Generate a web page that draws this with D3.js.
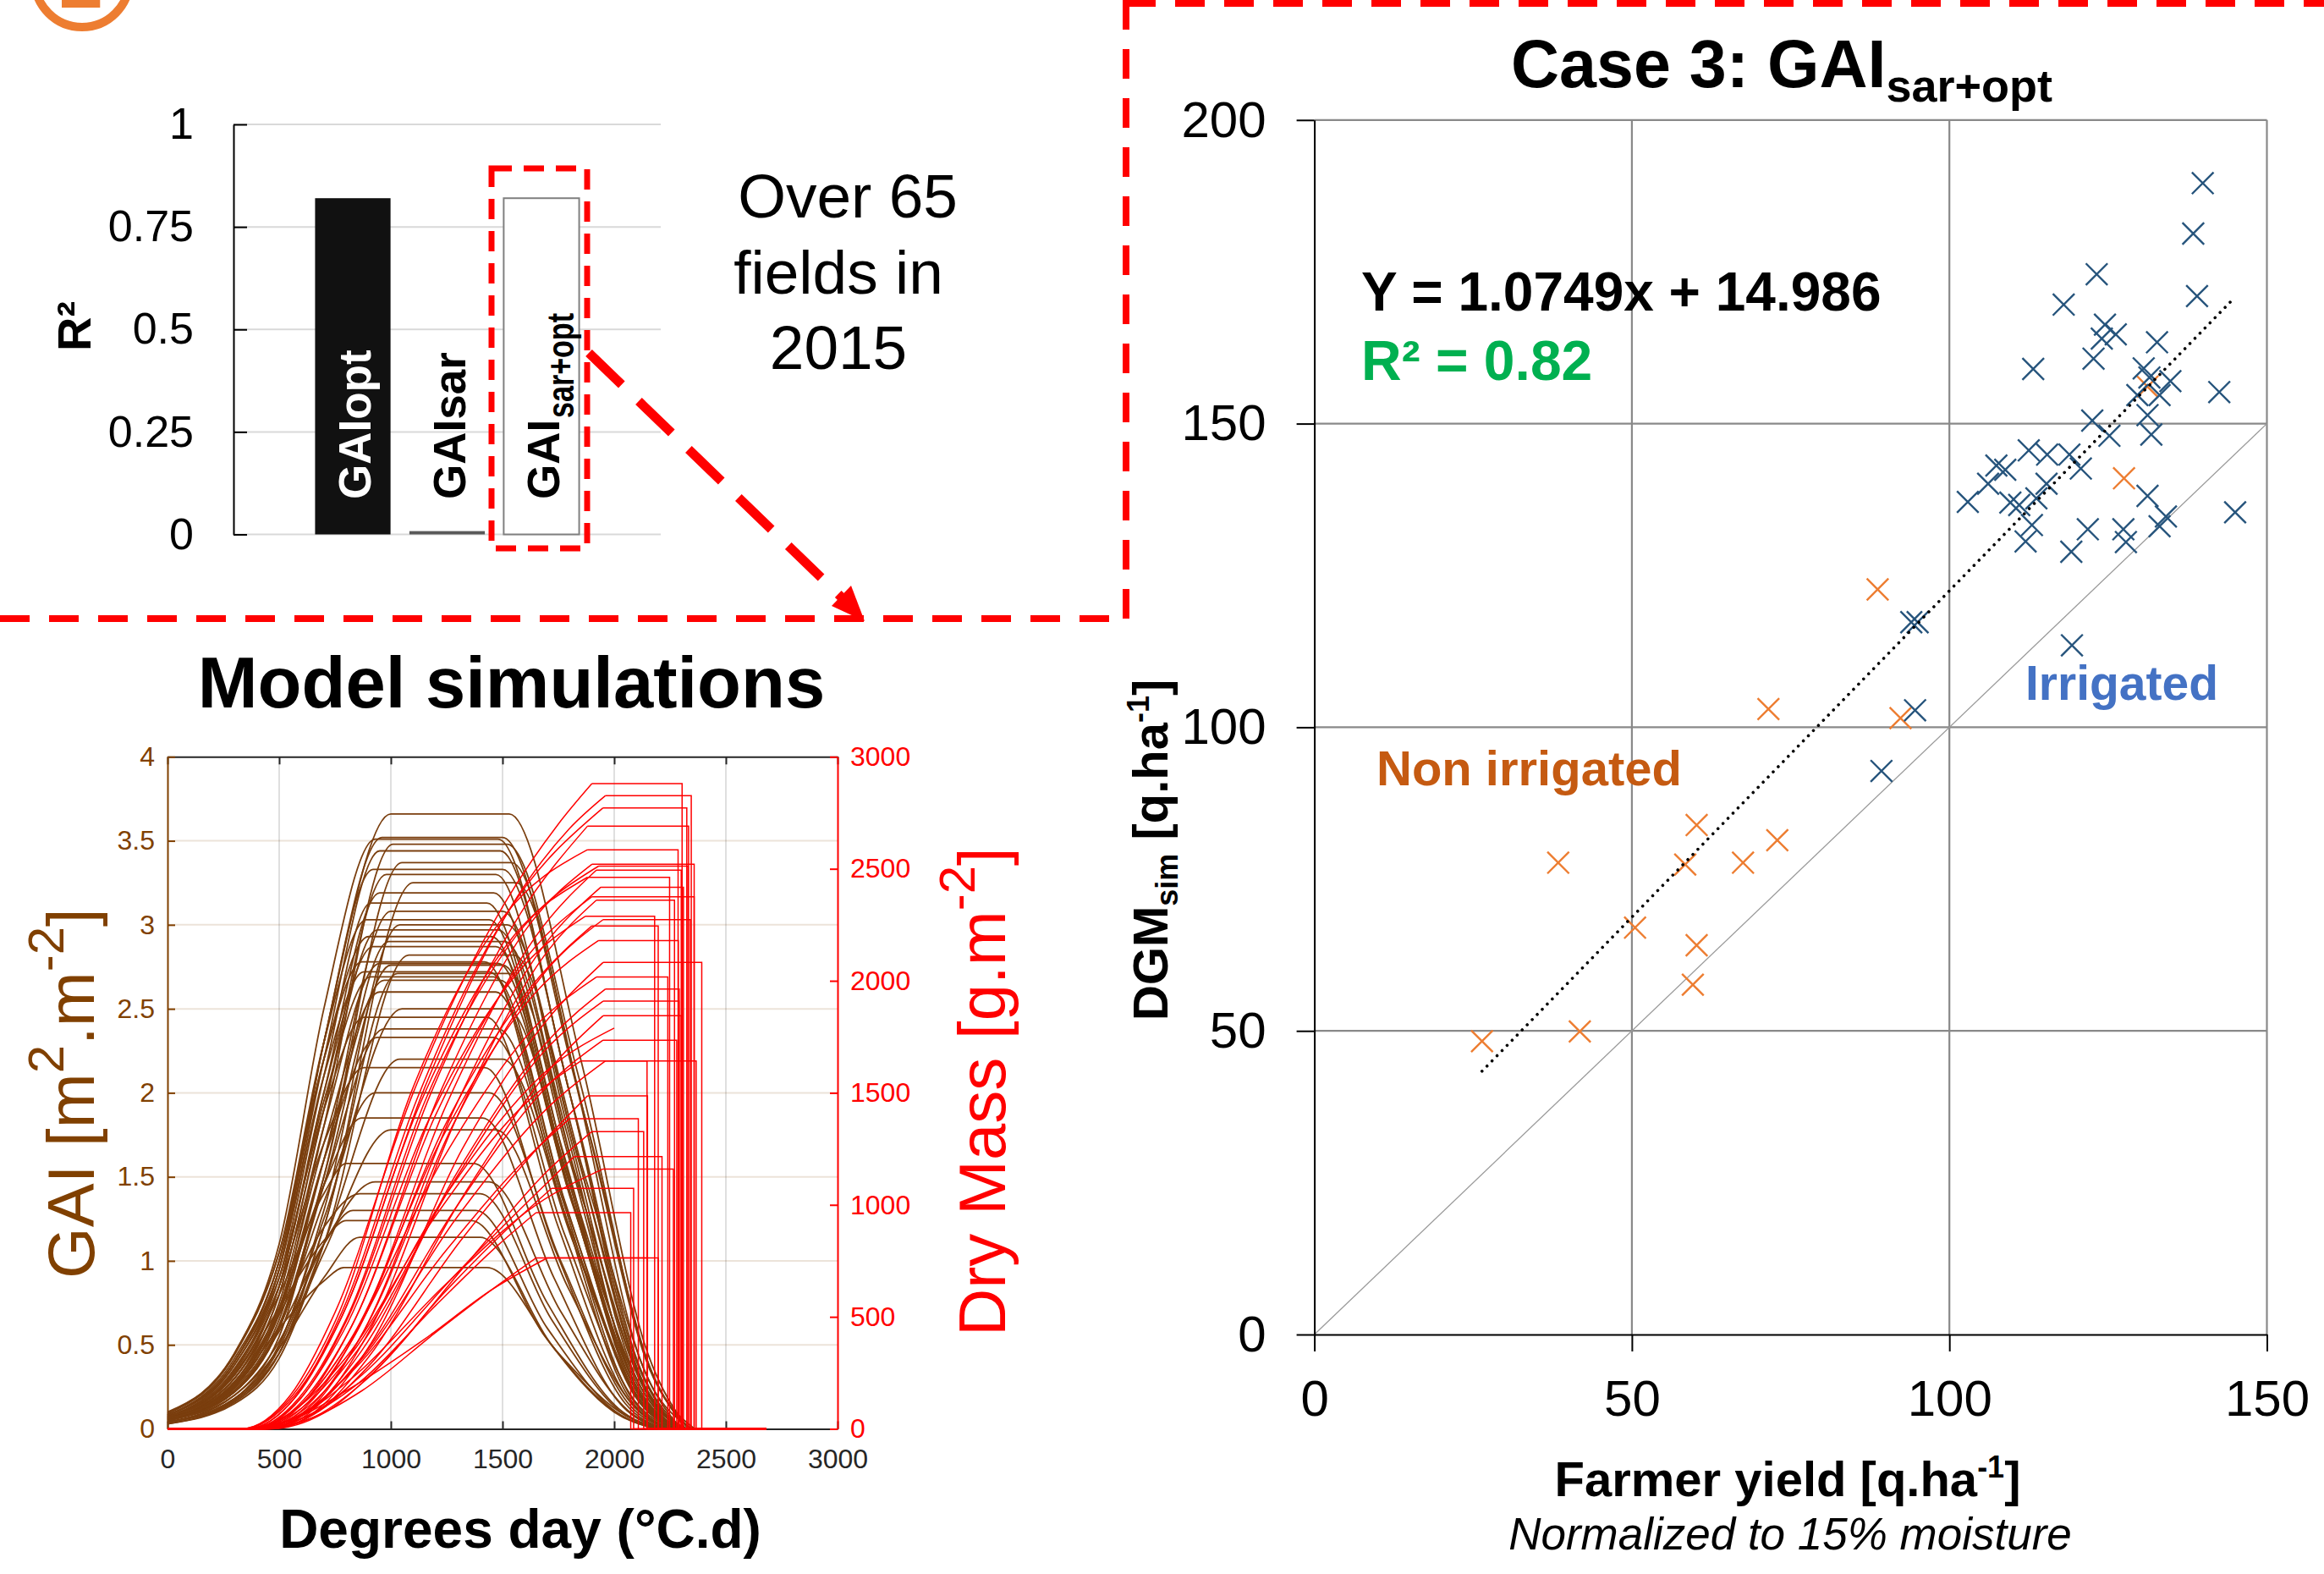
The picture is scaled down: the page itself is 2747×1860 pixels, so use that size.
<!DOCTYPE html>
<html>
<head>
<meta charset="utf-8">
<script src="https://cdn.jsdelivr.net/npm/d3@7"></script>
<style>
  html, body { margin: 0; padding: 0; background: #fff; }
  svg { display: block; }
</style>
</head>
<body>
<svg id="fig" width="2747" height="1860"></svg>
<script>
const FONT = '"Liberation Sans", Arial, sans-serif';
const BROWN = '#804000';
const BROWN_LINE = '#7a3e0e';
const RED = '#ff0000';
const ORANGE = '#ED7D31';
const BLUE_PT = '#26547C';

// R² of the three cases (top left)
const barCases = ['GAIopt', 'GAIsar', 'GAIsar+opt'];
const barR2 = [0.82, 0.008, 0.82];
const barTicks = [0, 0.25, 0.5, 0.75, 1];

// Case 3 scatter: [farmer yield, DGM sim]
const irrigated = [
  [139.9, 189.6], [138.4, 181.3], [123.2, 174.6], [139.0, 171.0], [118.0, 169.6], [124.5, 166.3],
  [126.2, 164.7], [124.0, 164.0], [132.7, 163.4], [122.7, 160.7], [113.2, 159.0], [130.6, 159.1],
  [134.8, 157.0], [131.5, 157.6], [142.5, 155.2], [129.6, 154.7], [133.1, 154.7], [131.2, 151.4],
  [131.8, 148.2], [122.5, 150.5], [125.2, 148.0], [112.5, 145.6], [115.4, 144.9], [118.9, 144.9],
  [107.4, 143.1], [108.8, 142.4], [120.7, 142.6], [106.1, 140.1], [115.3, 140.1], [102.9, 137.1],
  [109.6, 137.0], [111.0, 136.6], [113.7, 137.7], [113.0, 133.3], [112.0, 130.6], [121.8, 132.6],
  [119.2, 128.9], [127.4, 132.6], [127.8, 130.5], [131.2, 138.1], [134.1, 134.7], [133.1, 133.1],
  [145.0, 135.4], [119.3, 113.5], [94.0, 117.3], [95.0, 117.3], [94.6, 102.8], [89.3, 92.8]
];
const nonIrrigated = [
  [26.4, 48.3], [38.4, 77.7], [41.8, 49.9], [50.5, 67.0], [58.4, 77.4], [60.2, 83.9], [60.2, 64.1],
  [59.6, 57.6], [67.5, 77.7], [72.9, 81.4], [71.5, 103.0], [92.3, 101.5], [88.7, 122.7],
  [127.5, 141.0], [131.2, 156.1]
];
const trendSlope = 1.0749;
const trendIntercept = 14.986;
const scatterXTicks = [0, 50, 100, 150];
const scatterYTicks = [0, 50, 100, 150, 200];

// Model simulations: GAI curves [degree day, GAI]
const simXTicks = [0, 500, 1000, 1500, 2000, 2500, 3000];
const gaiTicks = [0, 0.5, 1, 1.5, 2, 2.5, 3, 3.5, 4];
const dmTicks = [0, 500, 1000, 1500, 2000, 2500, 3000];
const gaiCurves = [
  [[0,.08],[300,.4],[500,1.0],[700,2.3],[1000,3.66],[1530,3.66],[1850,2.2],[2150,.45],[2330,0]],
  [[0,.06],[300,.35],[500,.95],[700,2.3],[960,3.52],[1500,3.52],[1820,2.1],[2120,.4],[2300,0]],
  [[0,.1],[300,.45],[500,1.1],[700,2.5],[930,3.51],[1480,3.51],[1800,2.0],[2100,.4],[2280,0]],
  [[0,.05],[300,.25],[500,.7],[700,1.8],[1010,3.48],[1520,3.48],[1840,2.1],[2150,.4],[2320,0]],
  [[0,.07],[300,.38],[500,.95],[700,2.2],[950,3.44],[1490,3.44],[1800,2.0],[2100,.35],[2290,0]],
  [[0,.04],[300,.2],[500,.55],[700,1.5],[1050,3.37],[1540,3.37],[1860,1.9],[2160,.35],[2340,0]],
  [[0,.08],[300,.42],[500,1.0],[700,2.3],[920,3.33],[1500,3.33],[1820,1.9],[2120,.35],[2300,0]],
  [[0,.05],[300,.28],[500,.8],[700,1.9],[980,3.3],[1470,3.3],[1790,1.8],[2100,.3],[2280,0]],
  [[0,.03],[300,.16],[500,.45],[700,1.2],[1100,3.25],[1560,3.25],[1880,1.8],[2180,.3],[2360,0]],
  [[0,.06],[300,.3],[500,.85],[700,2.0],[950,3.19],[1460,3.19],[1780,1.8],[2080,.3],[2260,0]],
  [[0,.07],[300,.36],[500,.9],[700,2.1],[910,3.13],[1430,3.13],[1760,1.7],[2070,.3],[2250,0]],
  [[0,.05],[300,.24],[500,.65],[700,1.6],[1000,3.08],[1500,3.08],[1820,1.7],[2120,.3],[2300,0]],
  [[0,.09],[300,.44],[500,1.05],[700,2.3],[890,3.03],[1440,3.03],[1770,1.6],[2080,.25],[2260,0]],
  [[0,.04],[300,.18],[500,.5],[700,1.3],[1040,3.0],[1520,3.0],[1840,1.6],[2140,.25],[2320,0]],
  [[0,.06],[300,.3],[500,.8],[700,1.9],[940,2.97],[1480,2.97],[1800,1.6],[2100,.25],[2280,0]],
  [[0,.08],[300,.4],[500,1.0],[700,2.2],[900,2.93],[1450,2.93],[1780,1.5],[2090,.25],[2270,0]],
  [[0,.05],[300,.22],[500,.6],[700,1.5],[990,2.9],[1510,2.9],[1830,1.5],[2130,.25],[2310,0]],
  [[0,.07],[300,.33],[500,.85],[700,2.0],[920,2.87],[1470,2.87],[1790,1.5],[2100,.25],[2280,0]],
  [[0,.03],[300,.15],[500,.42],[700,1.1],[1080,2.82],[1550,2.82],[1870,1.5],[2170,.25],[2350,0]],
  [[0,.09],[300,.45],[500,1.05],[700,2.2],[870,2.78],[1420,2.78],[1750,1.4],[2060,.2],[2240,0]],
  [[0,.06],[300,.28],[500,.75],[700,1.8],[950,2.77],[1480,2.77],[1800,1.4],[2110,.2],[2290,0]],
  [[0,.05],[300,.22],[500,.6],[700,1.45],[1000,2.76],[1500,2.76],[1820,1.4],[2130,.2],[2310,0]],
  [[0,.08],[300,.4],[500,.95],[700,2.1],[880,2.72],[1440,2.72],[1760,1.4],[2070,.2],[2250,0]],
  [[0,.04],[300,.17],[500,.48],[700,1.2],[1030,2.71],[1530,2.71],[1850,1.4],[2150,.2],[2330,0]],
  [[0,.07],[300,.32],[500,.85],[700,1.95],[910,2.69],[1460,2.69],[1780,1.35],[2090,.2],[2270,0]],
  [[0,.05],[300,.25],[500,.68],[700,1.6],[970,2.67],[1490,2.67],[1810,1.35],[2120,.2],[2300,0]],
  [[0,.06],[300,.27],[500,.72],[700,1.7],[950,2.6],[1470,2.6],[1790,1.3],[2100,.2],[2280,0]],
  [[0,.04],[300,.18],[500,.5],[700,1.25],[1050,2.5],[1520,2.5],[1840,1.25],[2140,.2],[2320,0]],
  [[0,.08],[300,.38],[500,.9],[700,1.9],[880,2.45],[1430,2.45],[1750,1.2],[2060,.18],[2240,0]],
  [[0,.05],[300,.23],[500,.62],[700,1.45],[970,2.38],[1480,2.38],[1800,1.2],[2110,.18],[2290,0]],
  [[0,.06],[300,.26],[500,.7],[700,1.6],[940,2.33],[1460,2.33],[1780,1.15],[2090,.17],[2270,0]],
  [[0,.04],[300,.16],[500,.45],[700,1.1],[1040,2.2],[1500,2.2],[1820,1.1],[2120,.15],[2300,0]],
  [[0,.07],[300,.34],[500,.85],[700,1.7],[880,2.15],[1420,2.15],[1740,1.05],[2050,.15],[2230,0]],
  [[0,.05],[300,.22],[500,.6],[700,1.35],[930,2.0],[1440,2.0],[1760,1.0],[2070,.14],[2250,0]],
  [[0,.06],[300,.28],[500,.72],[700,1.45],[870,1.85],[1410,1.85],[1730,.9],[2040,.13],[2220,0]],
  [[0,.04],[300,.17],[500,.45],[700,1.05],[1000,1.78],[1470,1.78],[1790,.85],[2100,.12],[2280,0]],
  [[0,.07],[300,.32],[500,.8],[700,1.4],[800,1.58],[1370,1.58],[1700,.75],[2020,.12],[2200,0]],
  [[0,.05],[300,.2],[500,.52],[700,1.1],[930,1.47],[1440,1.47],[1760,.7],[2070,.1],[2250,0]],
  [[0,.06],[300,.26],[500,.68],[700,1.2],[860,1.4],[1400,1.4],[1720,.65],[2030,.1],[2210,0]],
  [[0,.05],[300,.22],[500,.58],[700,1.1],[830,1.3],[1380,1.3],[1700,.6],[2010,.1],[2190,0]],
  [[0,.07],[300,.3],[500,.72],[700,1.12],[800,1.24],[1360,1.24],[1690,.55],[2000,.1],[2180,0]],
  [[0,.04],[300,.18],[500,.48],[700,.9],[860,1.14],[1400,1.14],[1720,.5],[2030,.08],[2210,0]],
  [[0,.06],[300,.25],[500,.6],[700,.88],[790,.96],[1430,.96],[1750,.45],[2050,.08],[2230,0]]
];

// dry mass growth [degree day, g.m-2], then the harvest drop
const dmGrowth = [
  [[0,0],[330,0],[550,150],[750,520],[1100,1500],[1500,2330],[1750,2700],[1900,2880]],
  [[0,0],[360,0],[580,150],[780,500],[1150,1520],[1550,2350],[1800,2680],[1960,2826]],
  [[0,0],[350,0],[570,140],[780,520],[1120,1480],[1520,2300],[1950,2772]],
  [[0,0],[380,0],[600,140],[800,480],[1180,1500],[1580,2300],[1880,2690]],
  [[0,0],[330,0],[560,150],[760,500],[1090,1500],[1500,2280],[1880,2585]],
  [[0,0],[400,0],[620,130],[830,470],[1220,1500],[1620,2250],[1900,2520]],
  [[0,0],[370,0],[590,140],[800,490],[1160,1480],[1560,2200],[1930,2512]],
  [[0,0],[420,0],[650,130],[860,460],[1250,1450],[1650,2200],[1920,2494]],
  [[0,0],[340,0],[570,150],[770,480],[1130,1450],[1550,2200],[1880,2462]],
  [[0,0],[440,0],[670,120],[880,440],[1280,1420],[1680,2150],[1940,2418]],
  [[0,0],[390,0],[610,130],[820,450],[1200,1400],[1620,2120],[1900,2375]],
  [[0,0],[450,0],[690,120],[900,430],[1300,1400],[1700,2130],[1920,2360]],
  [[0,0],[360,0],[590,130],[790,440],[1170,1380],[1580,2050],[1870,2288]],
  [[0,0],[430,0],[660,120],[870,420],[1280,1360],[1700,2050],[1950,2273]],
  [[0,0],[400,0],[630,120],[840,420],[1240,1350],[1650,2000],[1900,2245]],
  [[0,0],[380,0],[610,120],[820,400],[1230,1300],[1650,1950],[1930,2180]],
  [[0,0],[470,0],[700,110],[910,380],[1320,1250],[1720,1850],[1950,2082]],
  [[0,0],[370,0],[600,110],[810,380],[1230,1200],[1650,1800],[1920,2017]],
  [[0,0],[430,0],[660,100],[870,350],[1300,1150],[1720,1750],[1960,1963]],
  [[0,0],[400,0],[630,100],[850,350],[1280,1100],[1700,1700],[1950,1909]],
  [[0,0],[450,0],[690,90],[900,320],[1330,1050],[1750,1650],[1950,1844]],
  [[0,0],[380,0],[610,100],[820,330],[1250,1050],[1700,1600],[2000,1789]],
  [[0,0],[420,0],[650,90],[870,320],[1300,1000],[1720,1550],[1950,1735]],
  [[0,0],[400,0],[640,90],[860,300],[1300,950],[1720,1450],[1960,1642]],
  [[0,0],[350,0],[590,100],[800,320],[1200,950],[1600,1450],[1850,1642]],
  [[0,0],[440,0],[680,80],[900,280],[1320,850],[1700,1300],[1880,1486]],
  [[0,0],[380,0],[620,80],[840,270],[1250,800],[1600,1200],[1800,1384]],
  [[0,0],[460,0],[700,70],[920,250],[1350,750],[1700,1150],[1900,1327]],
  [[0,0],[410,0],[650,70],[870,240],[1300,700],[1650,1050],[1820,1215]],
  [[0,0],[370,0],[610,70],[830,230],[1250,650],[1650,1000],[1950,1160]],
  [[0,0],[430,0],[670,60],[890,220],[1250,620],[1550,920],[1720,1074]],
  [[0,0],[390,0],[630,60],[850,200],[1200,550],[1480,820],[1650,965]],
  [[0,0],[410,0],[650,50],[870,170],[1200,430],[1450,620],[1650,763]],
  [[0,0],[340,0],[580,50],[800,170],[1150,400],[1450,620],[1700,763]]
];
const dmHarvest = [2304, 2345, 2325, 2333, 2286, 2358, 2330, 2300, 2248, 2310, 2358, 2270,
  2181, 2341, 2197, 2287, 2392, 2240, 2291, 2290, 2300, null, 2280, 2147, 2367, 2149,
  2108, 2132, 2214, 2265, 2087, 2074, 2147, 2197];
const dmTailEnd = 2680;

const svg = d3.select('#fig').attr('font-family', FONT);
svg.append('rect').attr('width', 2747).attr('height', 1860).attr('fill', '#fff');

function styleAxis(ax, color, size) {
  ax.attr('font-family', FONT).attr('font-size', size);
  ax.select('.domain').attr('stroke', color).attr('stroke-width', 2);
  ax.selectAll('.tick line').attr('stroke', color).attr('stroke-width', 2);
  ax.selectAll('.tick text').attr('fill', color);
}

function drawBarChart() {
  const g = svg.append('g');
  const x = d3.scaleBand().domain(barCases).range([276, 781])
    .paddingInner(0.2).paddingOuter(0.865).align(0.5);
  const y = d3.scaleLinear().domain([0, 1]).range([631.5, 147]);

  g.selectAll('.bar-grid').data(barTicks).enter().append('line')
    .attr('x1', 276).attr('x2', 781)
    .attr('y1', d => y(d)).attr('y2', d => y(d))
    .attr('stroke', '#d9d9d9').attr('stroke-width', 2);

  const fills = ['#111111', '#595959', '#ffffff'];
  g.selectAll('.bar').data(barCases).enter().append('rect')
    .attr('x', d => x(d)).attr('width', x.bandwidth())
    .attr('y', (d, i) => y(barR2[i]))
    .attr('height', (d, i) => y(0) - y(barR2[i]))
    .attr('fill', (d, i) => fills[i])
    .attr('stroke', (d, i) => i === 2 ? '#808080' : 'none')
    .attr('stroke-width', 2);

  const ax = g.append('g').attr('transform', 'translate(276,0)')
    .call(d3.axisLeft(y).tickValues(barTicks).tickFormat(d => String(d))
      .tickSizeInner(-16).tickSizeOuter(0).tickPadding(47));
  styleAxis(ax, '#000', 52);

  // rotated labels inside the bars
  const labelFill = ['#fff', '#000', '#000'];
  barCases.forEach((c, i) => {
    const bx = x(c) + x.bandwidth() / 2 + 21;
    const t = g.append('text')
      .attr('transform', `translate(${bx},590) rotate(-90)`)
      .attr('font-size', 53).attr('font-weight', 'bold').attr('fill', labelFill[i]);
    if (c === 'GAIsar+opt') {
      t.text('GAI');
      g.append('text')
        .attr('transform', `translate(${bx + 17},494) rotate(-90)`)
        .attr('font-size', 44).attr('font-weight', 'bold')
        .attr('textLength', 124).attr('lengthAdjust', 'spacingAndGlyphs')
        .text('sar+opt');
    } else {
      t.text(c);
    }
  });

  g.append('text').attr('transform', 'translate(107,415) rotate(-90)')
    .attr('font-size', 56).attr('font-weight', 'bold').text('R²');

  const note = [['Over 65', 1002, 257], ['fields in', 991, 347], ['2015', 991, 436]];
  note.forEach(n => {
    g.append('text').attr('x', n[1]).attr('y', n[2]).attr('text-anchor', 'middle')
      .attr('font-size', 73).text(n[0]);
  });

  // dashed box round the third bar
  g.append('rect').attr('x', 581).attr('y', 199).attr('width', 113).attr('height', 449)
    .attr('fill', 'none').attr('stroke', RED).attr('stroke-width', 7)
    .attr('stroke-dasharray', '24 14');
}

function drawSimChart() {
  const g = svg.append('g');
  const x = d3.scaleLinear().domain([0, 3000]).range([198, 990]);
  const yG = d3.scaleLinear().domain([0, 4]).range([1688.5, 894.3]);
  const yD = d3.scaleLinear().domain([0, 3000]).range([1688.5, 894.3]);
  const plain = d => String(d);

  // grid
  g.selectAll('.vgrid').data(simXTicks.slice(1, -1)).enter().append('line')
    .attr('x1', d => x(d)).attr('x2', d => x(d)).attr('y1', yG(0)).attr('y2', yG(4))
    .attr('stroke', 'rgba(38,38,38,0.15)').attr('stroke-width', 2);
  g.selectAll('.hgrid').data(gaiTicks.slice(1, -1)).enter().append('line')
    .attr('x1', x(0)).attr('x2', x(3000)).attr('y1', d => yG(d)).attr('y2', d => yG(d))
    .attr('stroke', 'rgba(128,64,0,0.15)').attr('stroke-width', 2);

  // axes
  const bottom = g.append('g').attr('transform', `translate(0,${yG(0)})`)
    .call(d3.axisBottom(x).tickValues(simXTicks).tickFormat(plain)
      .tickSizeInner(-9).tickSizeOuter(0).tickPadding(24));
  styleAxis(bottom, '#262626', 32);
  const top = g.append('g').attr('transform', `translate(0,${yG(4)})`)
    .call(d3.axisTop(x).tickValues(simXTicks).tickSizeInner(-9).tickSizeOuter(0).tickFormat(''));
  styleAxis(top, '#262626', 32);
  const left = g.append('g').attr('transform', `translate(${x(0)},0)`)
    .call(d3.axisLeft(yG).tickValues(gaiTicks).tickFormat(plain)
      .tickSizeInner(-9).tickSizeOuter(0).tickPadding(15));
  styleAxis(left, BROWN, 32);
  const right = g.append('g').attr('transform', `translate(${x(3000)},0)`)
    .call(d3.axisRight(yD).tickValues(dmTicks).tickFormat(plain)
      .tickSizeInner(-9).tickSizeOuter(0).tickPadding(15));
  styleAxis(right, RED, 32);

  // GAI curves
  const gaiLine = d3.line().x(d => x(d[0])).y(d => yG(d[1])).curve(d3.curveMonotoneX);
  g.selectAll('.gai').data(gaiCurves).enter().append('path')
    .attr('d', gaiLine).attr('fill', 'none')
    .attr('stroke', BROWN_LINE).attr('stroke-width', 1.8);

  // dry mass curves: growth, then flat until harvest, then drop to zero
  const growLine = d3.line().x(d => x(d[0])).y(d => yD(d[1])).curve(d3.curveMonotoneX);
  const stepLine = d3.line().x(d => x(d[0])).y(d => yD(d[1]));
  g.selectAll('.dm').data(dmGrowth).enter().append('path')
    .attr('d', (d, i) => {
      let p = growLine(d);
      const last = d[d.length - 1];
      const h = dmHarvest[i];
      if (h !== null) {
        p += stepLine([last, [h, last[1]], [h, 0], [dmTailEnd, 0]]);
      }
      return p;
    })
    .attr('fill', 'none').attr('stroke', RED).attr('stroke-width', 1.5);

  // titles
  g.append('text').attr('x', 604.5).attr('y', 836).attr('text-anchor', 'middle')
    .attr('font-size', 85).attr('font-weight', 'bold').text('Model simulations');
  g.append('text').attr('x', 615).attr('y', 1829).attr('text-anchor', 'middle')
    .attr('font-size', 64).attr('font-weight', 'bold').text('Degrees day (°C.d)');

  const gl = g.append('text').attr('transform', 'translate(111,1511) rotate(-90)')
    .attr('font-size', 78).attr('fill', BROWN);
  gl.append('tspan').text('GAI [m');
  gl.append('tspan').attr('font-size', 60).attr('dy', -36).text('2');
  gl.append('tspan').attr('dy', 36).text('.m');
  gl.append('tspan').attr('font-size', 60).attr('dy', -36).text('-2');
  gl.append('tspan').attr('dy', 36).text(']');

  const dl = g.append('text').attr('transform', 'translate(1188,1579) rotate(-90)')
    .attr('font-size', 78).attr('fill', RED);
  dl.append('tspan').text('Dry Mass [g.m');
  dl.append('tspan').attr('font-size', 60).attr('dy', -36).text('-2');
  dl.append('tspan').attr('dy', 36).text(']');
}

function drawScatter() {
  const g = svg.append('g');
  const x = d3.scaleLinear().domain([0, 150]).range([1553.6, 2679.5]);
  const y = d3.scaleLinear().domain([0, 200]).range([1577, 141.8]);

  g.selectAll('.sx').data(scatterXTicks.slice(1)).enter().append('line')
    .attr('x1', d => x(d)).attr('x2', d => x(d)).attr('y1', y(0)).attr('y2', y(200))
    .attr('stroke', '#898989').attr('stroke-width', 2.2);
  g.selectAll('.sy').data(scatterYTicks.slice(1)).enter().append('line')
    .attr('x1', x(0)).attr('x2', x(150)).attr('y1', d => y(d)).attr('y2', d => y(d))
    .attr('stroke', '#898989').attr('stroke-width', 2.2);

  // 1:1 line
  g.append('line').attr('x1', x(0)).attr('y1', y(0)).attr('x2', x(150)).attr('y2', y(150))
    .attr('stroke', '#9a9a9a').attr('stroke-width', 1.3);

  const cross = 'M-12.8,-12.8L12.8,12.8M-12.8,12.8L12.8,-12.8';
  g.selectAll('.non').data(nonIrrigated).enter().append('path')
    .attr('d', cross).attr('transform', d => `translate(${x(d[0])},${y(d[1])})`)
    .attr('fill', 'none').attr('stroke', ORANGE).attr('stroke-width', 2.4);
  g.selectAll('.irr').data(irrigated).enter().append('path')
    .attr('d', cross).attr('transform', d => `translate(${x(d[0])},${y(d[1])})`)
    .attr('fill', 'none').attr('stroke', BLUE_PT).attr('stroke-width', 2.4);

  // linear trend over the range of the fields
  const ext = d3.extent(irrigated.concat(nonIrrigated), d => d[0]);
  const trend = ext.map(v => [v, trendSlope * v + trendIntercept]);
  g.append('path').attr('d', d3.line().x(d => x(d[0])).y(d => y(d[1]))(trend))
    .attr('fill', 'none').attr('stroke', '#000').attr('stroke-width', 3.6)
    .attr('stroke-linecap', 'round').attr('stroke-dasharray', '0.01 8.5');

  const ax = g.append('g').attr('transform', `translate(0,${y(0)})`)
    .call(d3.axisBottom(x).tickValues(scatterXTicks).tickSizeInner(20).tickSizeOuter(0).tickPadding(33));
  styleAxis(ax, '#000', 60);
  const ay = g.append('g').attr('transform', `translate(${x(0)},0)`)
    .call(d3.axisLeft(y).tickValues(scatterYTicks).tickSizeInner(21).tickSizeOuter(0).tickPadding(36));
  styleAxis(ay, '#000', 60);

  const title = g.append('text').attr('x', 1786).attr('y', 103)
    .attr('font-size', 79).attr('font-weight', 'bold');
  title.append('tspan').text('Case 3: GAI');
  title.append('tspan').attr('font-size', 54).attr('dy', 17).text('sar+opt');

  g.append('text').attr('x', 1609).attr('y', 367).attr('font-size', 64)
    .attr('font-weight', 'bold').text('Y = 1.0749x + 14.986');
  g.append('text').attr('x', 1609).attr('y', 449).attr('font-size', 66)
    .attr('font-weight', 'bold').attr('fill', '#00B050').text('R² = 0.82');
  g.append('text').attr('x', 2394).attr('y', 827).attr('font-size', 57)
    .attr('font-weight', 'bold').attr('fill', '#4472C4').text('Irrigated');
  g.append('text').attr('x', 1627).attr('y', 928).attr('font-size', 58)
    .attr('font-weight', 'bold').attr('fill', '#C55A11').text('Non irrigated');

  const yl = g.append('text').attr('transform', 'translate(1380,1206) rotate(-90)')
    .attr('font-size', 58).attr('font-weight', 'bold');
  yl.append('tspan').text('DGM');
  yl.append('tspan').attr('font-size', 36).attr('dy', 12).text('sim');
  yl.append('tspan').attr('dy', -12).text(' [q.ha');
  yl.append('tspan').attr('font-size', 36).attr('dy', -22).text('-1');
  yl.append('tspan').attr('dy', 22).text(']');

  const xl = g.append('text').attr('x', 2113).attr('y', 1768).attr('text-anchor', 'middle')
    .attr('font-size', 58).attr('font-weight', 'bold');
  xl.append('tspan').text('Farmer yield [q.ha');
  xl.append('tspan').attr('font-size', 36).attr('dy', -22).text('-1');
  xl.append('tspan').attr('dy', 22).text(']');

  g.append('text').attr('x', 2116).attr('y', 1831).attr('text-anchor', 'middle')
    .attr('font-size', 53).attr('font-style', 'italic').text('Normalized to 15% moisture');
}

function drawDecor() {
  const g = svg.append('g');
  // orange step badge, cut by the top edge
  g.append('circle').attr('cx', 97).attr('cy', -24).attr('r', 56)
    .attr('fill', 'none').attr('stroke', ORANGE).attr('stroke-width', 10);
  g.append('text').attr('x', 96).attr('y', 9).attr('text-anchor', 'middle')
    .attr('font-size', 94).attr('font-weight', 'bold').attr('fill', ORANGE).text('2');

  const dash = (x1, y1, x2, y2) => g.append('line')
    .attr('x1', x1).attr('y1', y1).attr('x2', x2).attr('y2', y2)
    .attr('stroke', RED).attr('stroke-width', 8).attr('stroke-dasharray', '35 23');
  dash(1331, 0, 1331, 731);
  dash(0, 731, 1331, 731);
  dash(1331, 4, 2747, 4);

  // arrow from the third bar to the scatter
  g.append('line').attr('x1', 696).attr('y1', 417).attr('x2', 1000).attr('y2', 711)
    .attr('stroke', RED).attr('stroke-width', 11).attr('stroke-dasharray', '54 28');
  g.append('path').attr('d', 'M1022,734L983,716L1006,692Z').attr('fill', RED);
}

drawBarChart();
drawSimChart();
drawScatter();
drawDecor();
</script>
</body>
</html>
